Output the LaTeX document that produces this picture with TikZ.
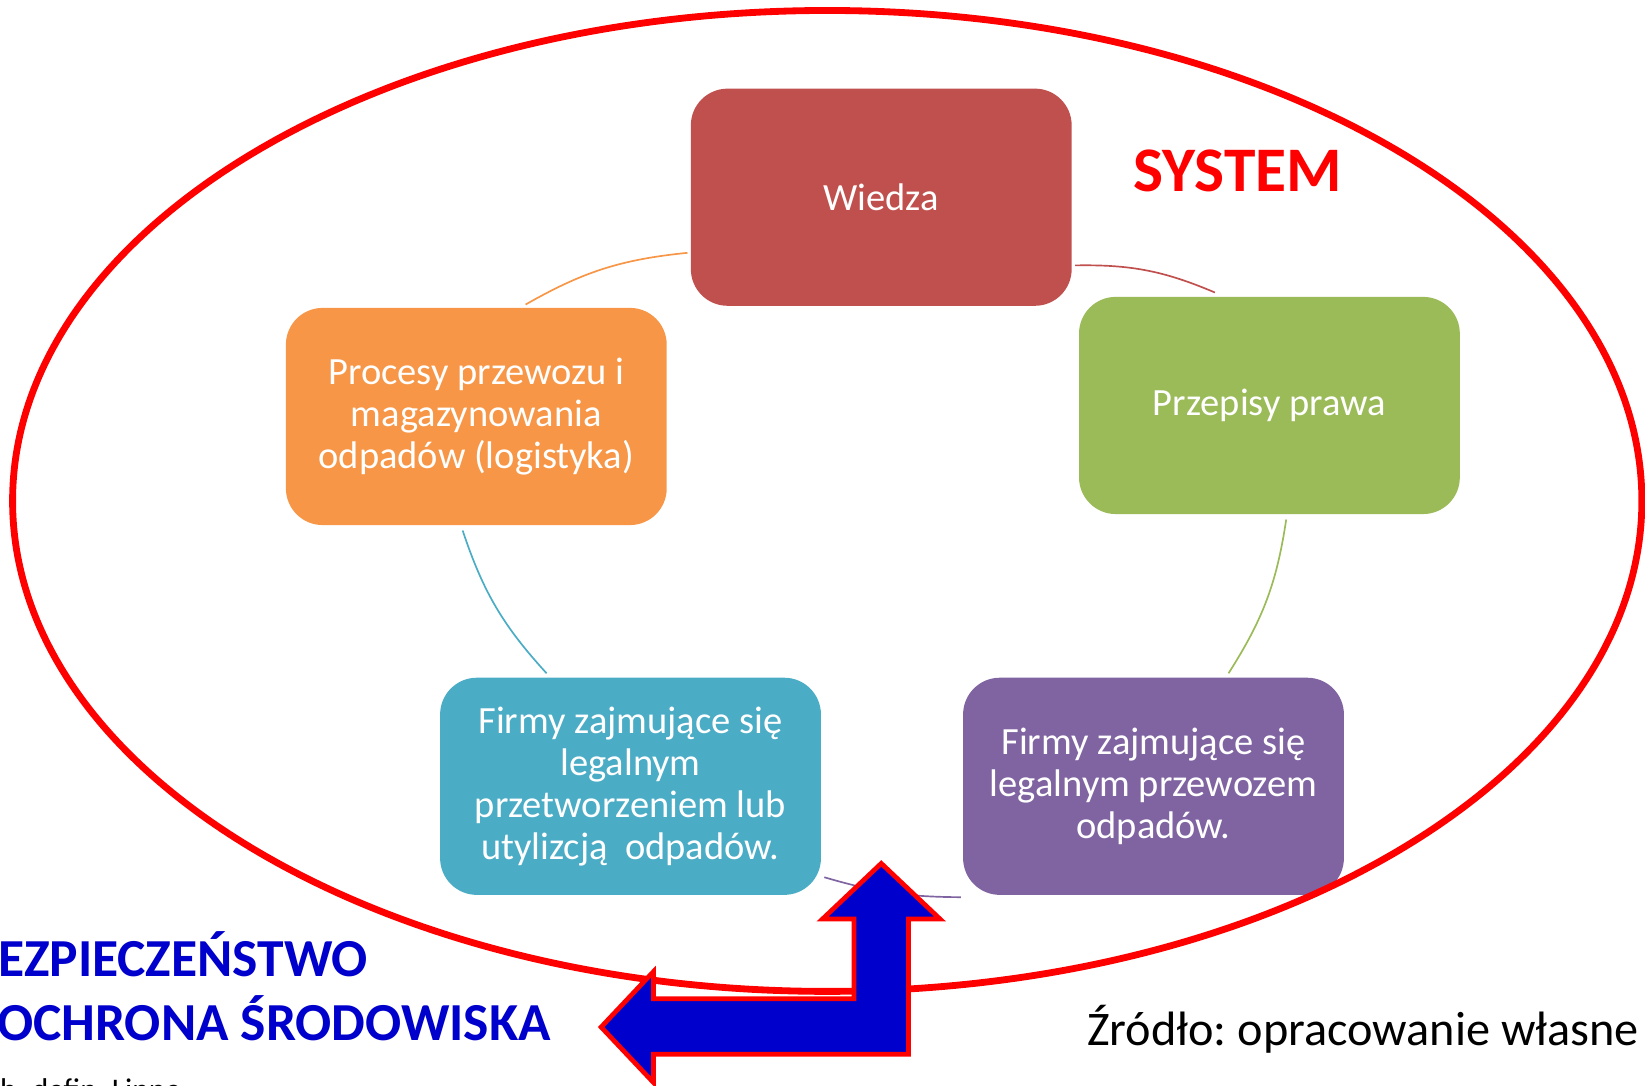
\documentclass[tikz,border=0pt]{standalone}
\usepackage{fontspec}
\setmainfont{Carlito}
\frenchspacing
\usetikzlibrary{calc}
\definecolor{cWiedza}{HTML}{C0504D}
\definecolor{cProc}{HTML}{F79646}
\definecolor{cPrawo}{HTML}{9BBB59}
\definecolor{cBlue}{HTML}{4BACC6}
\definecolor{cPurple}{HTML}{8064A2}
\definecolor{cArrow}{HTML}{0000CC}
\definecolor{cRed}{HTML}{FF0000}
\begin{document}
\begin{tikzpicture}[x=1pt,y=1pt,
  box/.style={rectangle, rounded corners=35pt, minimum width=363pt, minimum height=207pt,
    text=white, align=center, inner sep=0pt, font=\fontsize{36.7}{40}\selectfont},
  link/.style={line width=1.6pt},
  bigarrow/.style={fill=cArrow, draw=cRed, line width=4.5pt, miter limit=10},
  bluetext/.style={text=cArrow, inner sep=0pt, anchor=base west, font=\fontsize{51}{60}\selectfont\bfseries}]
\useasboundingbox (0,0) rectangle (1568,1035);
% boxes
\node[box, fill=cWiedza] (wiedza) at (840,847) {Wiedza};
\node[box, fill=cPrawo] (prawo) at (1210,648.5) {Przepisy prawa};
\node[box, fill=cPurple] (purple) at (1099.5,285.5) {Firmy zajmujące się\\legalnym przewozem\\odpadów.};
\node[box, fill=cBlue] (blue) at (601,285.5) {Firmy zajmujące się\\legalnym\\przetworzeniem lub\\utylizcją\ \ odpadów.};
\node[box, fill=cProc] (proc) at (454,638) {Procesy przewozu i\\magazynowania\\odpadów (logistyka)};
% cycle connectors
\draw[link, cWiedza] ($(wiedza.east)+(3,-65)$) to[bend left=12] ($(prawo.north)+(-52,4)$);
\draw[link, cPrawo] ($(prawo.south)+(16,-5)$) to[bend left=12] ($(purple.north)+(71.5,4)$);
\draw[link, cPurple] ($(purple.south west)+(-2,-2)$) to[bend left=8] ($(blue.south east)+(3,17)$);
\draw[link, cBlue] ($(blue.north)+(-80,4)$) to[bend left=12] ($(proc.south)+(-13,-5)$);
\draw[link, cProc] ($(proc.north)+(47,3)$) to[bend left=12] ($(wiedza.west)+(-3,-53)$);
% system ellipse
\node[text=cRed, inner sep=0pt, anchor=base, font=\fontsize{60.5}{70}\selectfont\bfseries] (system) at (1180,852) {SYSTEM};
\draw[cRed, line width=6.5pt] (788.5,557.5) ellipse [x radius=776.5, y radius=467.5];
% bent double arrow
\draw[bigarrow] (840,212) -- (896,159) -- (866,159) -- (866,30) -- (623,30) -- (623,3)
  -- (573,56) -- (623,109) -- (623,83) -- (814,83) -- (814,159) -- (784,159) -- cycle;
% texts
\node[bluetext] (bez) at (-2,104) {EZPIECZEŃSTWO};
\node[bluetext] (och) at (-3,43) {OCHRONA ŚRODOWISKA};
\node[inner sep=0pt, anchor=base west, font=\fontsize{46}{52}\selectfont] (zrodlo) at (1036,38) {Źródło: opracowanie własne};
\node[inner sep=0pt, anchor=base west, font=\fontsize{30}{36}\selectfont] (defin) at (0,-14) {h. defin. Linne:};
\end{tikzpicture}
\end{document}
